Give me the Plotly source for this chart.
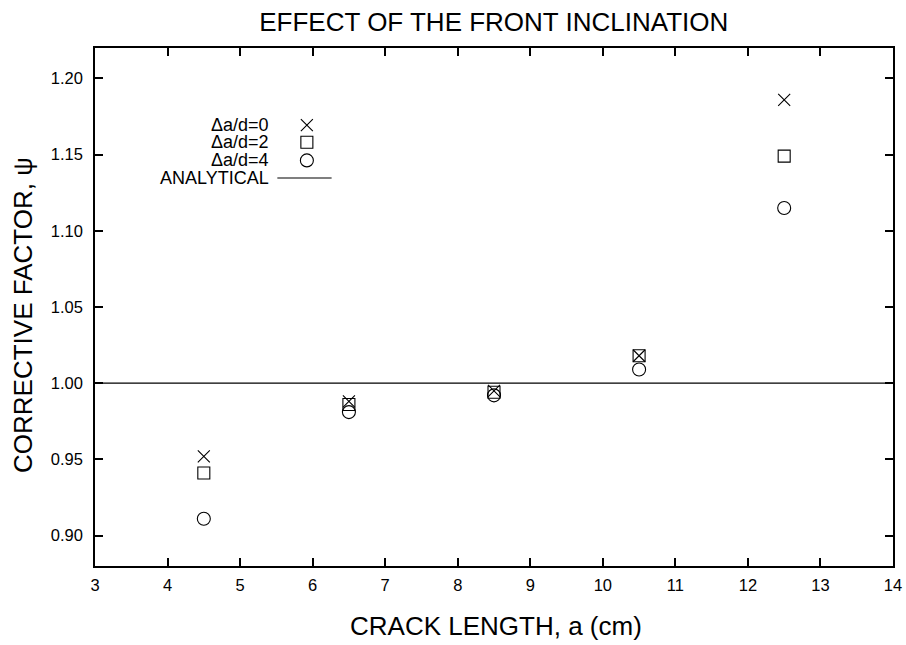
import plotly.graph_objects as go

crack_length = [4.5, 6.5, 8.5, 10.5, 12.5]
psi_da0 = [0.952, 0.988, 0.995, 1.018, 1.186]
psi_da2 = [0.941, 0.986, 0.994, 1.018, 1.149]
psi_da4 = [0.911, 0.981, 0.992, 1.009, 1.115]
analytical_x = [3, 14]
analytical_y = [1.0, 1.0]

series_names = ["\u0394a/d=0", "\u0394a/d=2", "\u0394a/d=4", "ANALYTICAL"]
symbols = ["x-thin-open", "square-open", "circle-open"]

x_ticks = list(range(3, 15))
y_ticks = [0.90, 0.95, 1.00, 1.05, 1.10, 1.15, 1.20]

FONT = "Liberation Sans, Arial, Helvetica, sans-serif"

fig = go.Figure()
fig.add_trace(go.Scatter(x=analytical_x, y=analytical_y, mode="lines",
                         line=dict(color="black", width=1.2), showlegend=False))
sizes = [12, 12, 13]
for vals, sym, sz in zip([psi_da0, psi_da2, psi_da4], symbols, sizes):
    fig.add_trace(go.Scatter(x=crack_length, y=vals, mode="markers",
                             marker=dict(symbol=sym, size=sz, color="black",
                                         line=dict(color="black", width=1.1)),
                             showlegend=False))

# manual gnuplot-style key (on an overlay axis spanning the plot area)
key_y = [0.851, 0.818, 0.783, 0.749]
key_text_x = 0.2205
key_mark_x = 0.2655
for i, name in enumerate(series_names):
    fig.add_annotation(xref="paper", yref="paper", x=key_text_x, y=key_y[i],
                       text=name, showarrow=False, xanchor="right", yanchor="middle",
                       font=dict(family=FONT, size=18, color="black"))
for i in range(3):
    fig.add_trace(go.Scatter(x=[key_mark_x], y=[key_y[i]], xaxis="x2", yaxis="y2",
                             mode="markers",
                             marker=dict(symbol=symbols[i], size=sizes[i], color="black",
                                         line=dict(color="black", width=1.1)),
                             showlegend=False, hoverinfo="skip"))
fig.add_trace(go.Scatter(x=[0.2285, 0.2965], y=[key_y[3], key_y[3]], xaxis="x2", yaxis="y2",
                         mode="lines", line=dict(color="black", width=1.2),
                         showlegend=False, hoverinfo="skip"))

# axis titles as annotations for exact placement
fig.add_annotation(xref="paper", yref="paper", x=0.502, y=-0.116,
                   text="CRACK LENGTH, a (cm)", showarrow=False,
                   xanchor="center", yanchor="middle",
                   font=dict(family=FONT, size=26, color="black"))
fig.add_annotation(xref="paper", yref="paper", x=-0.09, y=0.485,
                   text="CORRECTIVE FACTOR, \u03c8", showarrow=False, textangle=-90,
                   xanchor="center", yanchor="middle",
                   font=dict(family=FONT, size=26, color="black"))

axis_common = dict(showline=True, linecolor="black", linewidth=1.5, mirror="ticks",
                   ticks="inside", ticklen=8, tickwidth=1.5, tickcolor="black",
                   showgrid=False, zeroline=False, automargin=False,
                   tickfont=dict(family=FONT, size=16.5, color="black"))

fig.update_layout(
    width=906, height=645,
    margin=dict(l=95, r=13, t=48, b=79),
    paper_bgcolor="white", plot_bgcolor="white",
    title=dict(text="EFFECT OF THE FRONT INCLINATION", x=0.545, xanchor="center",
               y=0.966, yanchor="middle",
               font=dict(family=FONT, size=26, color="black")),
    xaxis=dict(range=[3, 14], tickvals=x_ticks, ticktext=[str(v) for v in x_ticks],
               ticklabelstandoff=3, **axis_common),
    yaxis=dict(range=[0.88, 1.22], tickvals=y_ticks, ticktext=[f"{v:.2f}" for v in y_ticks],
               ticklabelstandoff=7, **axis_common),
    xaxis2=dict(range=[0, 1], overlaying="x", visible=False, fixedrange=True),
    yaxis2=dict(range=[0, 1], overlaying="y", visible=False, fixedrange=True),
)

fig.write_html("out.html")
